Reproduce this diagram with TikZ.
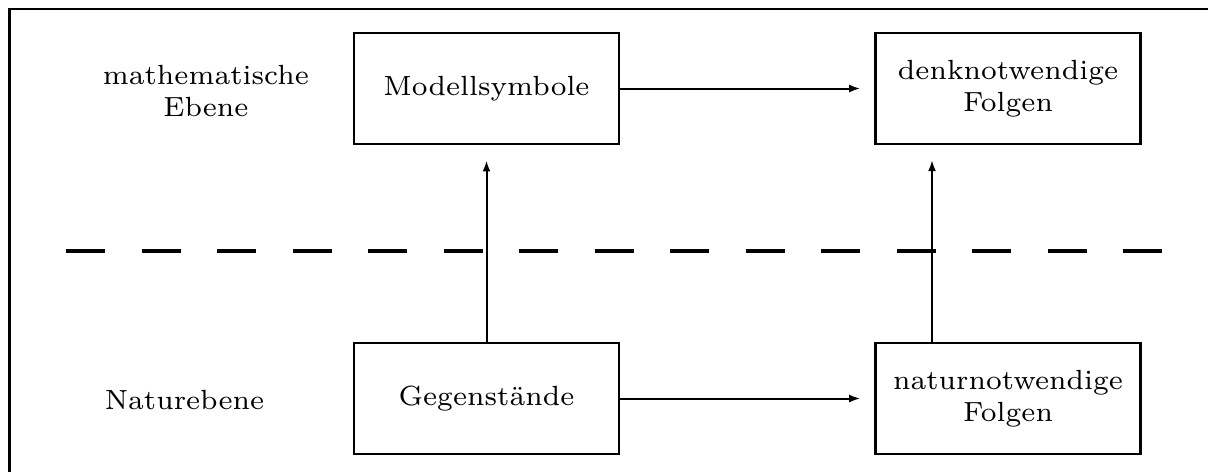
\documentclass[tikz,border=0pt]{standalone}
\usetikzlibrary{arrows.meta}
\begin{document}
\begin{tikzpicture}[x=0.2525pt,y=-0.2525pt,
  font=\fontsize{7}{8}\selectfont,
  box/.style={draw, line width=0.7pt, minimum width=66.9pt, minimum height=28pt, inner sep=0pt, align=center},
  lbl/.style={inner sep=0pt, align=center, anchor=west},
  arr/.style={line width=0.5pt, -{Latex[length=2.8pt,width=2pt]}},
  frame/.style={line width=0.7pt},
  level/.style={line width=0.8pt, dash pattern=on 9.85pt off 9.22pt}]
\useasboundingbox (0,0) rectangle (1208,472);
\draw[frame] (1208,9) -- (9.5,9) -- (9.5,472);
\node[box] (tl) at (486.5,88.5) {Modellsymbole};
\node[box] (tr) at (1008,88.5) {denknotwendige\\Folgen};
\node[box] (bl) at (486.5,398.5) {Gegenst\"ande};
\node[box] (br) at (1008,398.5) {naturnotwendige\\Folgen};
\node[lbl] (m) at (102,91) {mathematische\\Ebene};
\node[lbl] (n) at (104,400) {Naturebene};
\coordinate (d1) at (66,251);
\coordinate (d2) at (1163,251);
\draw[level] (d1) -- (d2);
\draw[arr] (tl.east) -- ([xshift=-3.5pt]tr.west);
\draw[arr] (bl.east) -- ([xshift=-3.5pt]br.west);
\draw[arr] (bl.north) -- ([yshift=-3.8pt]tl.south);
\coordinate (rb) at (932,342.5);
\coordinate (rt) at (932,160);
\draw[arr] (rb) -- (rt);
\end{tikzpicture}
\end{document}
